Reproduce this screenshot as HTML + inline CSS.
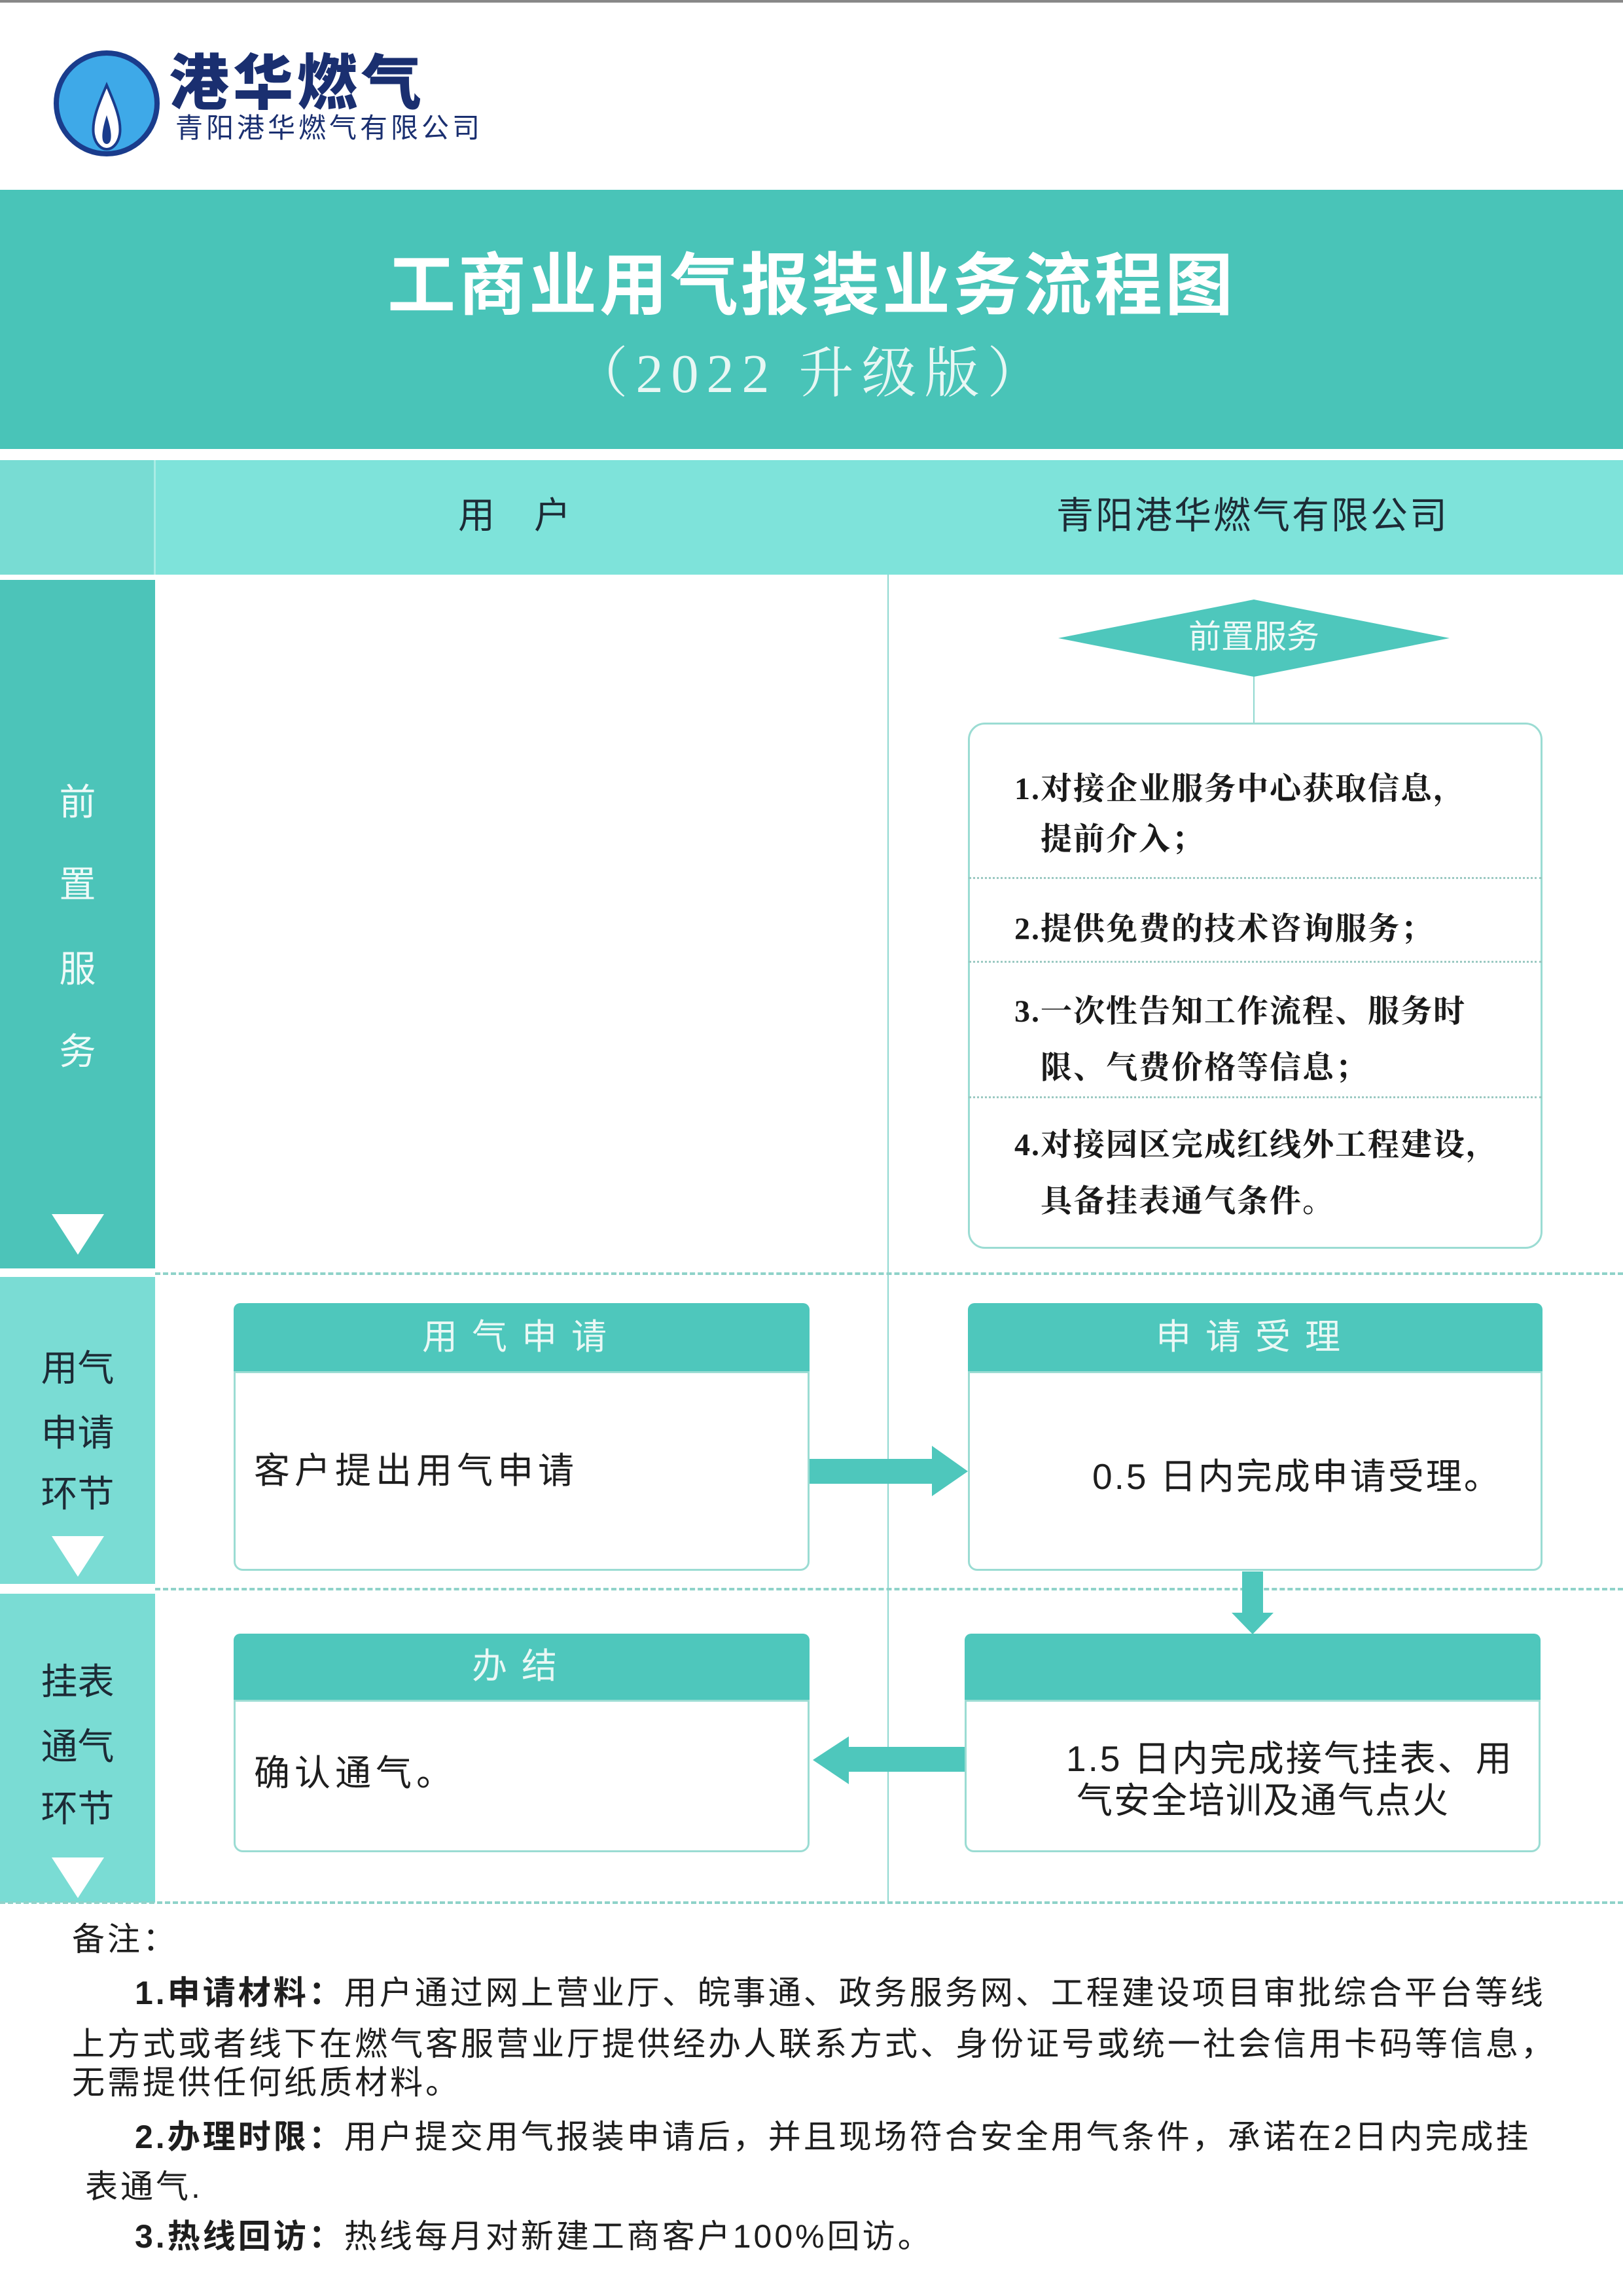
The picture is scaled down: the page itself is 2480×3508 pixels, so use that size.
<!DOCTYPE html>
<html><head><meta charset="utf-8">
<style>
*{margin:0;padding:0;box-sizing:border-box}
body{width:2480px;height:3508px;position:relative;background:#fff;overflow:hidden;font-family:"Liberation Sans","Noto Sans CJK SC",sans-serif}
.a{position:absolute}
.t{position:absolute;white-space:nowrap}
.lbl{position:absolute;left:0;width:237px;text-align:center;font-size:56px;color:#1d2b36;line-height:1}
.hd{position:absolute;background:#4ec7bc;border-radius:10px 10px 0 0;color:#eaf8f5;font-size:54px;text-align:center;letter-spacing:22px}
.bd{position:absolute;border:3px solid #9bdcd3;border-radius:0 0 14px 14px;background:#fff}
.tri{position:absolute;width:0;height:0;border-left:40px solid transparent;border-right:40px solid transparent;border-top:62px solid #fff}
.dash{position:absolute;left:237px;width:2243px;height:0;border-top:4px dashed #8fd2c9}
.sv{font-family:"Liberation Serif","Noto Serif CJK SC",serif;font-weight:bold;font-size:48px;color:#1a1a1a;letter-spacing:2px}
.note{position:absolute;left:110px;font-size:50px;color:#1e1e1e;letter-spacing:4px;white-space:nowrap;line-height:1}
</style></head><body>
<div class="a" style="left:0;top:0;width:2480px;height:4px;background:#888"></div>
<svg class="a" style="left:0;top:0" width="800" height="280">
<circle cx="163" cy="158" r="77" fill="#3ea9e8" stroke="#1a3c8c" stroke-width="8"/>
<path d="M163 130 C150 160,140 185,143 205 C146 222,156 228,163 228 C170 228,180 222,183 205 C186 185,176 160,163 130Z" fill="#fff" stroke="#1a3c8c" stroke-width="4"/>
<path d="M163 176 C158 192,155 205,157 214 C159 222,167 222,169 214 C171 205,168 192,163 176Z" fill="#1a3c8c"/>
</svg>
<div class="t" style="left:258px;top:82px;font-size:92px;font-weight:900;color:#1a2f70;letter-spacing:6px;line-height:1">港华燃气</div>
<div class="t" style="left:268px;top:175px;font-size:42px;color:#1a2f70;letter-spacing:5px;line-height:1">青阳港华燃气有限公司</div>

<div class="a" style="left:0;top:290px;width:2480px;height:396px;background:#49c4b8"></div>
<div class="t" style="left:0;width:2480px;top:385px;text-align:center;font-size:104px;font-weight:bold;color:#fff;letter-spacing:4px;line-height:1">工商业用气报装业务流程图</div>
<div class="t" style="left:0;width:2480px;top:530px;text-align:center;font-family:'Liberation Serif','Noto Serif CJK SC',serif;font-size:84px;color:#e8f7f4;letter-spacing:12px;line-height:1">（2022 升级版）</div>

<div class="a" style="left:0;top:703px;width:2480px;height:175px;background:#7ee3da"></div>
<div class="a" style="left:0;top:703px;width:237px;height:175px;background:#78dcd3"></div>
<div class="a" style="left:235px;top:703px;width:3px;height:175px;background:#a9ece5"></div>
<div class="t" style="left:700px;top:760px;font-size:56px;color:#1d2b36;letter-spacing:60px;line-height:1">用户</div>
<div class="t" style="left:1614px;top:760px;font-size:57px;color:#1d2b36;letter-spacing:3px;line-height:1">青阳港华燃气有限公司</div>

<div class="a" style="left:0;top:886px;width:237px;height:1052px;background:#4cc4b9"></div>
<div class="a" style="left:0;top:1951px;width:237px;height:469px;background:#7adcd4"></div>
<div class="a" style="left:0;top:2435px;width:237px;height:472px;background:#7adcd4"></div>
<div class="lbl" style="top:1198px;color:#eefaf8">前</div>
<div class="lbl" style="top:1324px;color:#eefaf8">置</div>
<div class="lbl" style="top:1453px;color:#eefaf8">服</div>
<div class="lbl" style="top:1579px;color:#eefaf8">务</div>
<div class="tri" style="left:79px;top:1855px"></div>
<div class="lbl" style="top:2063px">用气</div>
<div class="lbl" style="top:2162px">申请</div>
<div class="lbl" style="top:2255px">环节</div>
<div class="tri" style="left:79px;top:2347px"></div>
<div class="lbl" style="top:2542px">挂表</div>
<div class="lbl" style="top:2641px">通气</div>
<div class="lbl" style="top:2736px">环节</div>
<div class="tri" style="left:79px;top:2838px"></div>

<div class="a" style="left:1356px;top:878px;width:2px;height:2029px;background:#8fd8d0"></div>
<div class="dash" style="top:1944px"></div>
<div class="dash" style="top:2426px"></div>
<div class="dash" style="top:2905px;left:0;width:2480px"></div>

<svg class="a" style="left:1600px;top:900px" width="640" height="210">
<polygon points="17,75 316,16 615,75 316,134" fill="#4ec7bc"/>
<line x1="316" y1="134" x2="316" y2="204" stroke="#8fd8d0" stroke-width="2"/>
</svg>
<div class="t" style="left:1617px;width:598px;top:948px;text-align:center;font-size:50px;color:#eefaf8;line-height:1">前置服务</div>
<div class="a" style="left:1479px;top:1104px;width:878px;height:804px;border:3px solid #9bdcd3;border-radius:26px"></div>
<div class="a" style="left:1480px;top:1340px;width:876px;border-top:3px dotted #9bc9c2"></div>
<div class="a" style="left:1480px;top:1468px;width:876px;border-top:3px dotted #9bc9c2"></div>
<div class="a" style="left:1480px;top:1675px;width:876px;border-top:3px dotted #9bc9c2"></div>
<div class="t sv" style="left:1550px;top:1166px">1.对接企业服务中心获取信息，</div>
<div class="t sv" style="left:1590px;top:1243px">提前介入；</div>
<div class="t sv" style="left:1550px;top:1380px">2.提供免费的技术咨询服务；</div>
<div class="t sv" style="left:1550px;top:1506px">3.一次性告知工作流程、服务时</div>
<div class="t sv" style="left:1590px;top:1592px">限、气费价格等信息；</div>
<div class="t sv" style="left:1550px;top:1710px">4.对接园区完成红线外工程建设，</div>
<div class="t sv" style="left:1590px;top:1796px">具备挂表通气条件。</div>

<div class="hd" style="left:357px;top:1991px;width:880px;height:104px;line-height:104px">用气申请</div>
<div class="bd" style="left:357px;top:2095px;width:880px;height:305px"></div>
<div class="t" style="left:388px;top:2220px;font-size:55px;color:#1e1e1e;letter-spacing:7px;line-height:1">客户提出用气申请</div>
<div class="hd" style="left:1479px;top:1991px;width:878px;height:104px;line-height:104px">申请受理</div>
<div class="bd" style="left:1479px;top:2095px;width:878px;height:305px"></div>
<div class="t" style="left:1669px;top:2229px;font-size:55px;color:#1e1e1e;letter-spacing:3px;line-height:1">0.5 日内完成申请受理。</div>
<svg class="a" style="left:1230px;top:2200px" width="260" height="100">
<polygon points="7,29 194,29 194,9 249,48 194,86 194,67 7,67" fill="#4ec7bc"/>
</svg>
<svg class="a" style="left:1870px;top:2398px" width="90" height="104">
<polygon points="28,3 60,3 60,66 76,66 44,99 12,66 28,66" fill="#4ec7bc"/>
</svg>

<div class="hd" style="left:357px;top:2496px;width:880px;height:101px;line-height:101px">办结</div>
<div class="bd" style="left:357px;top:2597px;width:880px;height:233px"></div>
<div class="t" style="left:388px;top:2682px;font-size:55px;color:#1e1e1e;letter-spacing:7px;line-height:1">确认通气。</div>
<div class="hd" style="left:1474px;top:2496px;width:880px;height:101px"></div>
<div class="bd" style="left:1474px;top:2597px;width:880px;height:233px"></div>
<div class="t" style="left:1629px;top:2660px;font-size:55px;color:#1e1e1e;letter-spacing:3px;line-height:1">1.5 日内完成接气挂表、用</div>
<div class="t" style="left:1645px;top:2724px;font-size:55px;color:#1e1e1e;letter-spacing:2px;line-height:1">气安全培训及通气点火</div>
<svg class="a" style="left:1235px;top:2645px" width="245" height="90">
<polygon points="239,24 62,24 62,8 7,44 62,81 62,62 239,62" fill="#4ec7bc"/>
</svg>

<div class="note" style="top:2938px">备注：</div>
<div class="note" style="top:3020px;left:206px"><b>1.申请材料：</b>用户通过网上营业厅、皖事通、政务服务网、工程建设项目审批综合平台等线</div>
<div class="note" style="top:3098px">上方式或者线下在燃气客服营业厅提供经办人联系方式、身份证号或统一社会信用卡码等信息，</div>
<div class="note" style="top:3157px">无需提供任何纸质材料。</div>
<div class="note" style="top:3240px;left:206px"><b>2.办理时限：</b>用户提交用气报装申请后，并且现场符合安全用气条件，承诺在2日内完成挂</div>
<div class="note" style="top:3316px;left:130px">表通气.</div>
<div class="note" style="top:3392px;left:206px"><b>3.热线回访：</b>热线每月对新建工商客户100%回访。</div>
</body></html>
